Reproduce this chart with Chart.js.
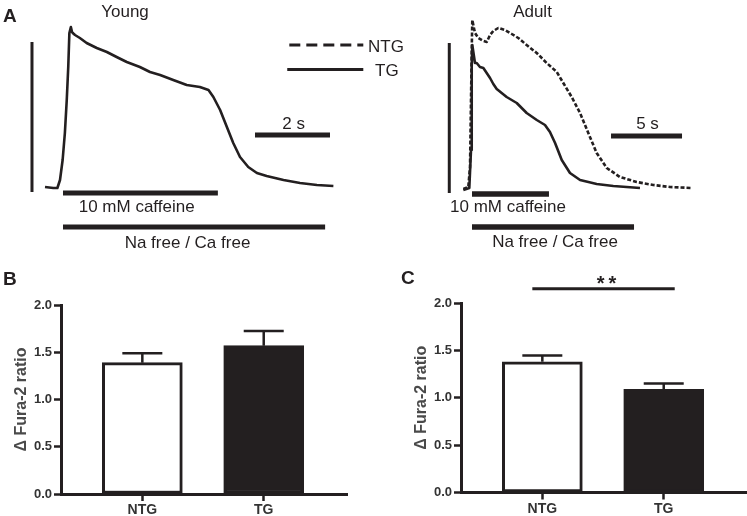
<!DOCTYPE html>
<html><head><meta charset="utf-8">
<script src="https://cdn.jsdelivr.net/npm/chart.js@4"></script>
<style>
html,body{margin:0;padding:0;background:#fff;}
#fig{position:relative;width:747px;height:516px;overflow:hidden;font-family:"Liberation Sans",Arial,Helvetica,sans-serif;color:#231f20;}
canvas{position:absolute;}
.t{position:absolute;white-space:nowrap;font-size:17px;line-height:17px;transform:translate(-50%,-50%);}
.l{position:absolute;white-space:nowrap;font-size:17px;line-height:17px;transform:translate(0,-50%);}
.p{position:absolute;white-space:nowrap;font-size:19px;font-weight:bold;line-height:19px;transform:translate(0,-50%);}
</style></head>
<body><div id="fig">
<canvas id="young" width="373" height="260" style="left:0;top:0"></canvas>
<canvas id="adult" width="374" height="260" style="left:373px;top:0"></canvas>
<canvas id="panelB" width="373" height="256" style="left:0;top:260px"></canvas>
<canvas id="panelC" width="347" height="256" style="left:400px;top:260px"></canvas>

<div class="p" style="left:3px;top:15px">A</div>
<div class="p" style="left:3px;top:277.5px">B</div>
<div class="p" style="left:401px;top:277px">C</div>
<div class="t" style="left:125px;top:11px">Young</div>
<div class="t" style="left:532.5px;top:10.5px">Adult</div>
<div class="l" style="left:368px;top:46px">NTG</div>
<div class="l" style="left:375px;top:69.5px">TG</div>
<div class="t" style="left:293.7px;top:122.5px">2 s</div>
<div class="t" style="left:647.5px;top:122.5px">5 s</div>
<div class="t" style="left:136.7px;top:206px">10 mM caffeine</div>
<div class="t" style="left:187.5px;top:241.5px">Na free / Ca free</div>
<div class="t" style="left:508px;top:206px">10 mM caffeine</div>
<div class="t" style="left:555px;top:241px">Na free / Ca free</div>
</div>
<script>
// ---------------- data ----------------
const categories = ['NTG', 'TG'];
const yTickValues = [0, 0.5, 1.0, 1.5, 2.0];

// Panel B (young): mean and SEM of delta Fura-2 ratio
const bMeans = [1.39, 1.57];
const bSem = [0.10, 0.155];
// Panel C (adult)
const cMeans = [1.38, 1.09];
const cSem = [0.065, 0.06];
const cSignificance = '**';

// Panel A, young trace (time s, delta ratio)
const youngTime = [-0.48,-0.26,-0.15,-0.08,-0.01,0.05,0.10,0.14,0.17,0.21,0.24,0.26,0.32,0.45,0.63,0.90,1.17,1.43,1.70,2.05,2.32,2.59,2.94,3.30,3.65,3.88,4.01,4.19,4.37,4.54,4.72,4.94,5.17,5.43,5.88,6.32,6.77,7.21];
const youngRatio = [0.01,0.00,0.00,0.08,0.28,0.55,0.88,1.21,1.55,1.61,1.56,1.55,1.53,1.50,1.45,1.40,1.36,1.31,1.26,1.21,1.16,1.13,1.08,1.03,1.01,0.98,0.91,0.78,0.61,0.45,0.31,0.21,0.15,0.12,0.08,0.05,0.03,0.02];

// Panel A, adult traces
const adultNtgTime = [-0.61,-0.26,-0.14,-0.07,-0.02,0.02,0.21,0.44,0.80,1.04,1.27,1.50,1.85,2.32,2.80,3.26,3.85,4.56,5.26,5.97,6.43,7.02,7.61,8.19,8.78,9.49,10.42,11.60,12.77,13.94,15.47];
const adultNtgRatio = [-0.01,0.01,0.21,0.88,1.38,1.68,1.55,1.50,1.47,1.46,1.53,1.57,1.60,1.58,1.54,1.50,1.43,1.35,1.25,1.16,1.05,0.91,0.75,0.55,0.35,0.20,0.11,0.06,0.03,0.01,0.00];
const adultTgTime = [-0.61,-0.19,-0.07,-0.02,0.02,0.21,0.33,0.56,0.80,1.27,1.50,1.74,2.44,3.15,3.85,4.56,5.14,5.49,5.85,6.32,6.90,7.61,8.78,9.95,11.83];
const adultTgRatio = [-0.02,0.00,0.38,1.21,1.43,1.25,1.25,1.21,1.20,1.10,1.04,0.99,0.91,0.85,0.75,0.68,0.63,0.56,0.45,0.28,0.15,0.08,0.04,0.02,0.00];

// stimulus periods and scale bars (s / ratio)
const youngCaffeine = [0, 4.13];
const youngNaFree = [0, 6.99];
const youngTimeBar = [5.12, 7.12];     // 2 s
const youngRatioBar = [-0.04, 1.46];
const adultCaffeine = [0, 5.42];
const adultNaFree = [0, 11.41];
const adultTimeBar = [9.79, 14.79];    // 5 s
const adultRatioBar = [-0.05, 1.45];

// ---------------- styling ----------------
const INK = '#231f20';
const FONT = '"Liberation Sans", Arial, Helvetica, sans-serif';

function seg(x0, x1, y0, y1, w, dash) {
  return {data:[{x:x0,y:y0},{x:x1,y:y1}], borderColor:INK, borderWidth:w, borderDash:dash||[],
          pointRadius:0, borderCapStyle:'butt', fill:false, tension:0};
}
function trace(ts, vs, w, dash) {
  return {data: ts.map((t,i)=>({x:t, y:vs[i]})), borderColor:INK, borderWidth:w, borderDash:dash||[],
          pointRadius:0, tension:0, borderJoinStyle:'round', fill:false};
}
function traceOptions(xmin, xmax) {
  return {responsive:false, animation:false, events:[], layout:{padding:0},
    plugins:{legend:{display:false}, tooltip:{enabled:false}},
    scales:{x:{type:'linear', display:false, min:xmin, max:xmax},
            y:{type:'linear', display:false, min:-0.72, max:1.88}}};
}

new Chart(document.getElementById('young'), {
  type:'line',
  data:{datasets:[
    trace(youngTime, youngRatio, 2.6),
    seg(youngCaffeine[0], youngCaffeine[1], -0.05, -0.05, 5),
    seg(youngNaFree[0], youngNaFree[1], -0.39, -0.39, 5),
    seg(youngTimeBar[0], youngTimeBar[1], 0.53, 0.53, 5),
    seg(-0.827, -0.827, youngRatioBar[0], youngRatioBar[1], 3),
    seg(6.035, 8.008, 1.43, 1.43, 3, [11,6]),
    seg(5.98, 8.008, 1.185, 1.185, 3)
  ]},
  options: traceOptions(-1.68, 8.2667)
});

new Chart(document.getElementById('adult'), {
  type:'line',
  data:{datasets:[
    trace(adultNtgTime, adultNtgRatio, 2.6, [4,2]),
    trace(adultTgTime, adultTgRatio, 2.6),
    seg(adultCaffeine[0], adultCaffeine[1], -0.06, -0.06, 5.5),
    seg(adultNaFree[0], adultNaFree[1], -0.39, -0.39, 5.5),
    seg(adultTimeBar[0], adultTimeBar[1], 0.52, 0.52, 5),
    seg(-1.6, -1.6, adultRatioBar[0], adultRatioBar[1], 3)
  ]},
  options: traceOptions(-6.972, 19.366)
});

const errorBars = {
  id:'errorBars',
  afterDatasetsDraw(chart, args, opts) {
    const meta = chart.getDatasetMeta(0);
    const ys = chart.scales.y, ctx = chart.ctx;
    ctx.save();
    ctx.strokeStyle = INK; ctx.lineWidth = 2.5; ctx.lineCap = 'butt';
    meta.data.forEach((bar, i) => {
      const top = ys.getPixelForValue(opts.means[i] + opts.errors[i]);
      ctx.beginPath();
      ctx.moveTo(bar.x, bar.y); ctx.lineTo(bar.x, top);
      ctx.moveTo(bar.x - 20, top); ctx.lineTo(bar.x + 20, top);
      ctx.stroke();
    });
    ctx.restore();
  }
};
const sigBracket = {
  id:'sigBracket',
  afterDraw(chart, args, opts) {
    if (!opts.label) return;
    const meta = chart.getDatasetMeta(0);
    const ys = chart.scales.y, ctx = chart.ctx;
    const x0 = meta.data[0].x - 10, x1 = meta.data[1].x + 11;
    const y = ys.getPixelForValue(opts.level);
    ctx.save();
    ctx.strokeStyle = INK; ctx.lineWidth = 3;
    ctx.beginPath(); ctx.moveTo(x0, y); ctx.lineTo(x1, y); ctx.stroke();
    ctx.fillStyle = INK; ctx.font = 'bold 20px ' + FONT;
    ctx.textAlign = 'center'; ctx.textBaseline = 'alphabetic';
    const cx = (x0 + x1) / 2 + 3;
    const chars = opts.label.split('');
    chars.forEach((ch, i) => {
      ctx.fillText(ch, cx + (i - (chars.length - 1) / 2) * 11.7, y + 1);
    });
    ctx.restore();
  }
};

function barChart(id, means, sems, padTop, xHeight, padRight, sig) {
  return new Chart(document.getElementById(id), {
    type:'bar',
    data:{datasets:[{
      data: categories.map((c,i)=>({x:i+1, y:means[i]})),
      backgroundColor:['#ffffff', INK], borderColor:INK, borderWidth:3,
      borderSkipped:false, barThickness:80
    }]},
    plugins:[errorBars, sigBracket],
    options:{
      responsive:false, animation:false, events:[],
      layout:{padding:{top:padTop, right:padRight, left:0, bottom:0}},
      plugins:{legend:{display:false}, tooltip:{enabled:false},
        errorBars:{means:means, errors:sems},
        sigBracket:{label:sig, level:2.15}},
      scales:{
        x:{type:'linear', min:0.33, max:2.686, offset:false,
          afterBuildTicks:s=>{s.ticks = categories.map((c,i)=>({value:i+1}));},
          afterFit:s=>{s.height = xHeight;},
          grid:{display:true, offset:false, drawOnChartArea:false, drawTicks:true, tickLength:7, tickWidth:2.5, tickColor:INK},
          border:{display:true, width:3, color:INK},
          ticks:{callback:v=>categories[Math.round(v)-1], font:{family:FONT, weight:'bold', size:14},
                 color:'#333', padding:1, maxRotation:0, autoSkip:false}},
        y:{type:'linear', min:0, max:2,
          afterBuildTicks:s=>{s.ticks = yTickValues.map(v=>({value:v}));},
          afterFit:s=>{s.width = 61;},
          grid:{display:true, drawOnChartArea:false, drawTicks:true, tickLength:7, tickWidth:2.5, tickColor:INK},
          border:{display:true, width:3, color:INK},
          ticks:{callback:v=>Number(v).toFixed(1), font:{family:FONT, weight:'bold', size:13}, color:'#333', padding:2},
          title:{display:true, text:'\u0394 Fura-2 ratio', font:{family:FONT, weight:'bold', size:16},
                 color:'#4a4a4a', padding:{top:12, bottom:0}}}
      }
    }
  });
}

barChart('panelB', bMeans, bSem, 45, 22, 26, '');
barChart('panelC', cMeans, cSem, 43, 23.5, 0, cSignificance);
</script>
</body></html>
